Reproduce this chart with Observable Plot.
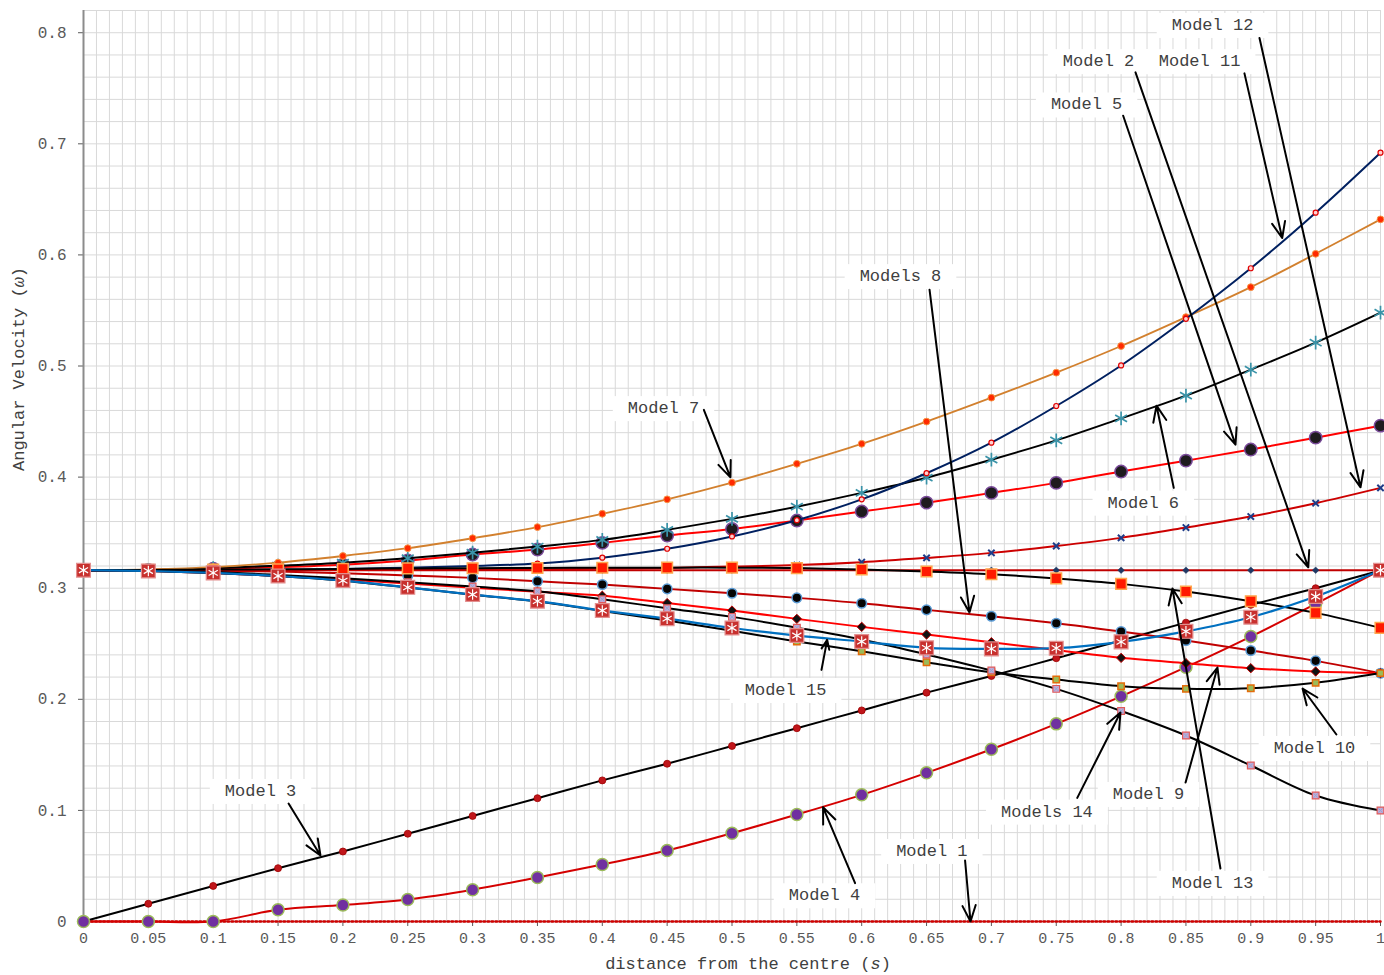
<!DOCTYPE html>
<html><head><meta charset="utf-8">
<script src="https://cdn.jsdelivr.net/npm/d3@7"></script>
<script src="https://cdn.jsdelivr.net/npm/@observablehq/plot@0.6"></script>
<style>body{margin:0;background:#fff} #chart svg{display:block}</style>
</head><body><div id="chart"></div>
<script>
// ---------- data ----------
const xs = [0,0.05,0.1,0.15,0.2,0.25,0.3,0.35,0.4,0.45,0.5,0.55,0.6,0.65,0.7,0.75,0.8,0.85,0.9,0.95,1];
const model1  = [0,0,0,0,0,0,0,0,0,0,0,0,0,0,0,0,0,0,0,0,0];
const model2  = [0.3162,0.3162,0.3162,0.3162,0.3162,0.3162,0.3162,0.3162,0.3162,0.3162,0.3162,0.3162,0.3162,0.3162,0.3162,0.3162,0.3162,0.3162,0.3162,0.3162,0.3162];
const model3  = [0,0.016,0.032,0.048,0.063,0.079,0.095,0.111,0.127,0.142,0.158,0.174,0.190,0.206,0.221,0.237,0.253,0.269,0.285,0.300,0.316];
const model4  = [0,0,0,0.0105,0.0148,0.0198,0.0286,0.0396,0.0513,0.0639,0.0795,0.0963,0.1140,0.1338,0.1550,0.1779,0.2027,0.2289,0.2565,0.2859,0.3162];
const model5  = [0.3162,0.3165,0.3175,0.319,0.3212,0.325,0.3303,0.3348,0.3408,0.3474,0.3533,0.3609,0.369,0.377,0.3858,0.3948,0.405,0.4148,0.4248,0.4355,0.4463];
const model6  = [0.3162,0.3165,0.318,0.3203,0.323,0.327,0.332,0.3375,0.3435,0.3525,0.3624,0.3734,0.3858,0.3995,0.4157,0.4331,0.4529,0.4733,0.4967,0.521,0.548];
const model7  = [0.3162,0.317,0.319,0.323,0.329,0.336,0.345,0.355,0.367,0.380,0.395,0.412,0.430,0.450,0.4715,0.494,0.518,0.544,0.571,0.601,0.632];
const model8  = [0.3162,0.3161,0.3157,0.315,0.3135,0.3114,0.3093,0.3062,0.3033,0.2994,0.2955,0.2913,0.2865,0.2805,0.2748,0.2685,0.261,0.2529,0.2439,0.2346,0.2235];
const model9  = [0.3162,0.3155,0.3138,0.311,0.308,0.3042,0.3005,0.2968,0.2932,0.2866,0.2799,0.2724,0.2652,0.2583,0.2514,0.2444,0.2373,0.2325,0.228,0.225,0.2236];
const model10 = [0.3162,0.3155,0.3138,0.311,0.3068,0.3007,0.2942,0.288,0.2795,0.2709,0.2617,0.252,0.2432,0.2334,0.2243,0.2178,0.2118,0.2094,0.21,0.2148,0.2236];
const model11 = [0.3162,0.3162,0.3163,0.3166,0.3172,0.3185,0.32,0.3222,0.3275,0.3355,0.3466,0.3612,0.380,0.4035,0.431,0.464,0.5005,0.5425,0.588,0.638,0.692];
const model12 = [0.3162,0.3162,0.3162,0.3163,0.3164,0.3165,0.3167,0.317,0.3175,0.3183,0.3195,0.3208,0.3234,0.3273,0.3318,0.338,0.3453,0.3546,0.3645,0.3765,0.3903];
const model13 = [0.3162,0.3165,0.3168,0.317,0.3174,0.3178,0.318,0.3182,0.3184,0.3185,0.3185,0.3181,0.3168,0.315,0.3126,0.3088,0.3039,0.297,0.2883,0.2778,0.2643];
const model14 = [0.3162,0.3158,0.3145,0.312,0.309,0.3054,0.3015,0.2972,0.29,0.282,0.2742,0.2645,0.2538,0.2403,0.2259,0.2094,0.1895,0.1674,0.1404,0.1134,0.0999];
const model15 = [0.3162,0.3155,0.3138,0.311,0.3069,0.3008,0.2943,0.2883,0.2799,0.2726,0.2642,0.2574,0.252,0.2463,0.2454,0.246,0.2517,0.2612,0.2739,0.2925,0.3162];

const seriesNames  = ["Model 1","Model 2","Model 3","Model 4","Model 5","Model 6","Model 7","Model 8","Model 9","Model 10","Model 11","Model 12","Model 13","Model 14","Model 15"];
const seriesValues = [model1,model2,model3,model4,model5,model6,model7,model8,model9,model10,model11,model12,model13,model14,model15];

const xTicks      = [0,0.05,0.1,0.15,0.2,0.25,0.3,0.35,0.4,0.45,0.5,0.55,0.6,0.65,0.7,0.75,0.8,0.85,0.9,0.95,1];
const xTickLabels = ["0","0.05","0.1","0.15","0.2","0.25","0.3","0.35","0.4","0.45","0.5","0.55","0.6","0.65","0.7","0.75","0.8","0.85","0.9","0.95","1"];
const yTicks      = [0,0.1,0.2,0.3,0.4,0.5,0.6,0.7,0.8];
const yTickLabels = ["0","0.1","0.2","0.3","0.4","0.5","0.6","0.7","0.8"];
const xTitle = "distance from the centre (s)";
const yTitle = "Angular Velocity (ω)";

// annotation labels and arrows (data coordinates)
const annText = ["Model 7","Models 8","Model 2","Model 11","Model 12","Model 5","Model 6","Model 15","Model 10","Model 9","Models 14","Model 13","Model 3","Model 4","Model 1"];
const annX    = [0.4472,0.6299,0.7826,0.8605,0.8705,0.7734,0.8171,0.5413,0.9491,0.8211,0.7428,0.8705,0.1365,0.5713,0.6541];
const annY    = [0.4625,0.5813,0.7748,0.7748,0.8074,0.7358,0.3774,0.2088,0.1566,0.1152,0.0993,0.0351,0.1179,0.0240,0.0639];
const arrX1   = [0.4783,0.6523,0.8111,0.8951,0.9067,0.8016,0.8406,0.5690,0.9660,0.8497,0.7662,0.8766,0.1581,0.5949,0.6797];
const arrY1   = [0.4605,0.5687,0.7643,0.7634,0.7952,0.7253,0.3903,0.2265,0.1683,0.1251,0.1113,0.0477,0.1062,0.0345,0.0549];
const arrX2   = [0.4988,0.6831,0.9443,0.9242,0.9846,0.8882,0.8273,0.5734,0.9399,0.8743,0.7995,0.8396,0.1827,0.5702,0.6839];
const arrY2   = [0.3998,0.2781,0.3188,0.6152,0.3908,0.4292,0.4643,0.2535,0.2097,0.2286,0.1881,0.2997,0.0594,0.1028,0];

// ---------- styles ----------
const styles = {
  "Model 1":  {stroke:"#d00000", width:2.5, dash:"1.5,2.5", markers:[]},
  "Model 2":  {stroke:"#c00000", width:2, markers:[{symbol:"diamond2", r:3, fill:"#1f3864", stroke:"#1f3864", sw:0.5}]},
  "Model 3":  {stroke:"#000000", width:2, markers:[{symbol:"circle", r:3.5, fill:"#c0161b", stroke:"#a00000", sw:0.8}]},
  "Model 4":  {stroke:"#d40000", width:2, markers:[{symbol:"circle", r:6, fill:"#7030a0", stroke:"#9bbb59", sw:1.5}]},
  "Model 5":  {stroke:"#ff0000", width:2, markers:[{symbol:"circle", r:6.2, fill:"#1e1b1e", stroke:"#7a4b9a", sw:1.5}]},
  "Model 6":  {stroke:"#000000", width:2, markers:[{symbol:"asterisk", r:6.5, fill:"none", stroke:"#3a93a8", sw:1.7}]},
  "Model 7":  {stroke:"#d2802e", width:1.8, markers:[{symbol:"circle", r:3.4, fill:"#ff2a00", stroke:"#f79646", sw:1}]},
  "Model 8":  {stroke:"#c00000", width:2, markers:[{symbol:"circle", r:4.8, fill:"#050505", stroke:"#5b9bd5", sw:1.5}]},
  "Model 9":  {stroke:"#ff0000", width:2, markers:[{symbol:"diamond2", r:4.2, fill:"#111111", stroke:"#c00000", sw:1}]},
  "Model 10": {stroke:"#000000", width:2, markers:[{symbol:"square", r:3.6, fill:"#9bbb59", stroke:"#e46c0a", sw:1.5}]},
  "Model 11": {stroke:"#002060", width:2, markers:[{symbol:"circle", r:2.5, fill:"#ffd0d0", stroke:"#e00000", sw:1.2}]},
  "Model 12": {stroke:"#cc0000", width:2, markers:[{symbol:"times", r:3, fill:"none", stroke:"#1f3c88", sw:2}]},
  "Model 13": {stroke:"#000000", width:2, markers:[{symbol:"square", r:6, fill:"#ff1a00", stroke:"#ffa64d", sw:1.5}]},
  "Model 14": {stroke:"#000000", width:2, markers:[{symbol:"square", r:3.8, fill:"#c6a9d4", stroke:"#e05a5a", sw:1.2},{symbol:"times", r:2.2, fill:"none", stroke:"#8fa9d8", sw:1}]},
  "Model 15": {stroke:"#0070c0", width:2.2, markers:[{symbol:"square", r:7.8, fill:"#c8302e", stroke:"#e39090", sw:1.2},{symbol:"asterisk", r:5, fill:"none", stroke:"#ffffff", sw:1.2}]}
};

// ---------- marks ----------
const xGrid = d3.range(0, 101).map(i => i / 100);
const yGrid = d3.range(0, 42).map(i => i / 50);

const marks = [
  Plot.ruleX(xGrid, {x: d => d, stroke: "#d9d9d9", strokeWidth: 1}),
  Plot.ruleY(yGrid, {y: d => d, stroke: "#d9d9d9", strokeWidth: 1}),
  Plot.frame({stroke: "#d9d9d9"}),
  Plot.ruleX([0], {stroke: "#8c8c8c", strokeWidth: 2}),
  Plot.ruleY([0], {stroke: "#8c8c8c", strokeWidth: 1.5})
];

seriesNames.forEach((name, i) => {
  const st = styles[name];
  const data = xs.map((x, j) => ({x, y: seriesValues[i][j]}));
  marks.push(Plot.line(data, {x: "x", y: "y", stroke: st.stroke, strokeWidth: st.width, curve: "catmull-rom", strokeDasharray: st.dash}));
  st.markers.forEach(m => {
    marks.push(Plot.dot(data, {x: "x", y: "y", symbol: m.symbol, r: m.r, fill: m.fill, stroke: m.stroke, strokeWidth: m.sw}));
  });
});

const ann = annText.map((t, i) => ({t, x: annX[i], y: annY[i], x1: arrX1[i], y1: arrY1[i], x2: arrX2[i], y2: arrY2[i]}));
marks.push(Plot.text(ann, {x: "x", y: "y", text: "t", fill: "#404040", fontSize: 17, textAnchor: "middle", lineAnchor: "middle"}));
marks.push(Plot.arrow(ann, {x1: "x1", y1: "y1", x2: "x2", y2: "y2", stroke: "#000", strokeWidth: 2, headLength: 13, headAngle: 45}));

marks.push(Plot.text([xTitle], {frameAnchor: "bottom", dx: 16, dy: 47, text: d => d, fill: "#404040", fontSize: 17}));
marks.push(Plot.text([yTitle], {frameAnchor: "left", dx: -65, dy: 5, rotate: -90, text: d => d, fill: "#404040", fontSize: 17}));

const chart = Plot.plot({
  width: 1384, height: 975,
  marginLeft: 83, marginRight: 4, marginTop: 10, marginBottom: 54,
  style: {fontFamily: '"Courier New","Liberation Mono",monospace', fontSize: "15px", color: "#595959", background: "#fff"},
  x: {domain: [0, 1], ticks: xTicks, tickFormat: d => xTickLabels[xTicks.indexOf(d)], tickSize: 5, tickPadding: 6, label: null},
  y: {domain: [0, 0.82], ticks: yTicks, tickFormat: d => yTickLabels[yTicks.indexOf(d)], tickSize: 5, tickPadding: 12, label: null},
  marks
});
document.getElementById("chart").append(chart);

// ---------- post-processing: label boxes and italic variables ----------
const NS = "http://www.w3.org/2000/svg";
const annSet = new Set(annText);
chart.querySelectorAll("text").forEach(t => {
  const s = t.textContent;
  if (annSet.has(s)) {
    const b = t.getBBox();
    const r = document.createElementNS(NS, "rect");
    r.setAttribute("x", b.x - 15);
    r.setAttribute("y", b.y - 3);
    r.setAttribute("width", b.width + 30);
    r.setAttribute("height", b.height + 6);
    r.setAttribute("fill", "#ffffff");
    if (t.getAttribute("transform")) r.setAttribute("transform", t.getAttribute("transform"));
    t.parentNode.insertBefore(r, t.parentNode.firstChild);
  }
  const m = s === xTitle ? "s" : s === yTitle ? "ω" : null;
  if (m) {
    const k = s.lastIndexOf(m);
    t.textContent = "";
    const a = document.createElementNS(NS, "tspan"); a.textContent = s.slice(0, k);
    const b2 = document.createElementNS(NS, "tspan"); b2.textContent = m; b2.setAttribute("font-style", "italic");
    const c = document.createElementNS(NS, "tspan"); c.textContent = s.slice(k + 1);
    t.append(a, b2, c);
  }
});
chart.querySelectorAll('g[aria-label="y-axis tick label"] text').forEach(t => t.setAttribute("font-size", "16"));
</script>
</body></html>
